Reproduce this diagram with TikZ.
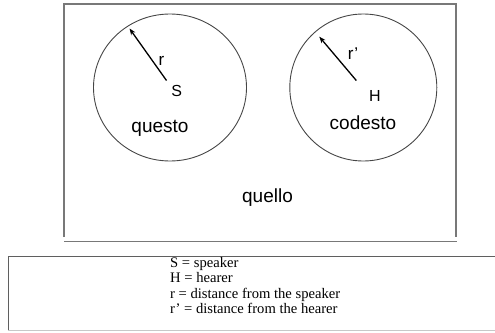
\documentclass[tikz,border=0pt]{standalone}
\usepackage{fontspec}
\setmainfont{Liberation Serif}
\newfontfamily\labelfont{Liberation Sans}
\usetikzlibrary{shapes.geometric,arrows.meta}

\tikzset{
  frameline/.style={draw={rgb,255:red,120;green,120;blue,120}, line width=1.4pt},
  legendline/.style={draw={rgb,255:red,95;green,95;blue,95}, line width=1.2pt},
  legendbase/.style={draw={rgb,255:red,200;green,200;blue,200}, line width=1pt},
  zone/.style={draw={rgb,255:red,70;green,70;blue,70}, line width=0.9pt, ellipse, inner sep=0pt},
  radius arrow/.style={line width=1.3pt, -{Stealth[length=6.5pt,width=5pt]}},
  bigtext/.style={font=\labelfont\fontsize{19}{22}\selectfont, inner sep=0pt, anchor=base},
  midtext/.style={font=\labelfont\fontsize{17}{20}\selectfont, inner sep=0pt, anchor=base},
  smalltext/.style={font=\labelfont\fontsize{16}{19}\selectfont, inner sep=0pt, anchor=base},
  legendtext/.style={font=\fontsize{14.6}{15.6}\selectfont, inner sep=0pt, anchor=base west}
}

\begin{document}
\begin{tikzpicture}[x=1pt, y=-1pt]
  \useasboundingbox (0,0) rectangle (495,332);

  % outer frame for the distance zones (open at the bottom, separate base line)
  \draw[frameline] (64,237) -- (64,4) -- (456,4) -- (456,237);
  \draw[frameline] (64,241.5) -- (457,241.5);

  % the two proximity zones
  \node[zone, minimum width=153pt, minimum height=147pt] (zoneS) at (170,87.5) {};
  \node[zone, minimum width=147pt, minimum height=147pt] (zoneH) at (363.3,87.5) {};

  % radius arrows
  \coordinate (sC) at (166.5,80.5);
  \coordinate (sR) at (129.5,28.5);
  \coordinate (hC) at (356.3,80.5);
  \coordinate (hR) at (319.3,36.7);
  \draw[radius arrow] (sC) -- (sR);
  \draw[radius arrow] (hC) -- (hR);

  % labels
  \node[midtext] (labR) at (161.5,65.3) {r};
  \node[midtext] (labRp) at (353,59.5) {r’};
  \node[smalltext] (labS) at (176.7,96.5) {S};
  \node[smalltext] (labH) at (375,101.5) {H};
  \node[bigtext] (questo) at (160,132.5) {questo};
  \node[bigtext] (codesto) at (363,129) {codesto};
  \node[bigtext] (quello) at (267.5,202.3) {quello};

  % legend box
  \draw[legendline] (497,256.7) -- (8.3,256.7) -- (8.3,330.8);
  \draw[legendbase] (8.3,330.8) -- (497,330.8);
  \node[legendtext] (leg1) at (170,267) {S = speaker};
  \node[legendtext] (leg2) at (170,282.5) {H = hearer};
  \node[legendtext] (leg3) at (170,298) {r = distance from the speaker};
  \node[legendtext] (leg4) at (170,313.5) {r’ = distance from the hearer};
\end{tikzpicture}
\end{document}
